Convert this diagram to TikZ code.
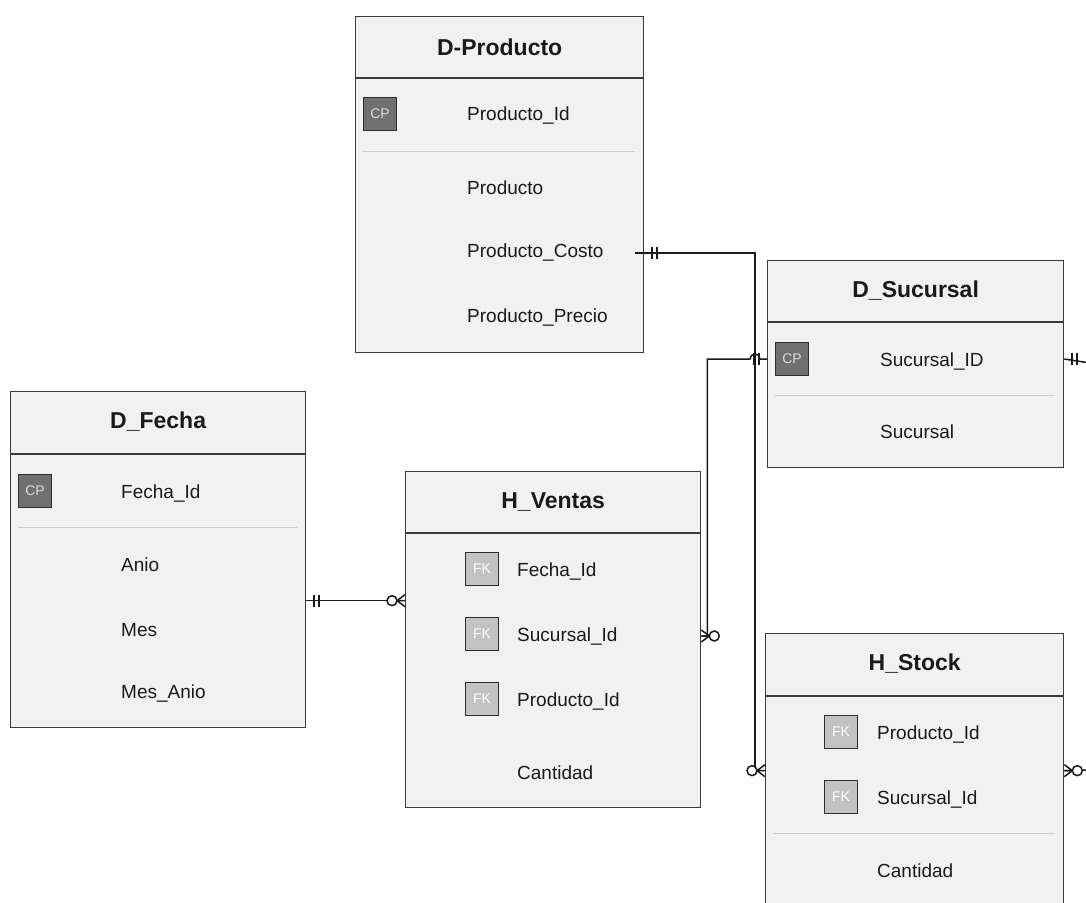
\documentclass[tikz,border=0pt]{standalone}
\usepackage{fontspec}
\setmainfont{Liberation Sans}
\usetikzlibrary{positioning,calc}
\definecolor{Cell}{HTML}{F1F1F1}
\definecolor{Frame}{HTML}{3A3A3A}
\definecolor{Ink}{HTML}{1A1A1A}
\definecolor{Rule}{HTML}{CACACA}
\definecolor{KeyDark}{HTML}{707070}
\definecolor{KeyLight}{HTML}{C2C2C2}
\tikzset{
  tbl/.style={draw=Frame,fill=Cell,line width=1.3pt,anchor=north west,inner sep=0pt},
  head/.style={font=\fontsize{23}{27}\selectfont\bfseries,text=Ink},
  fld/.style={anchor=west,inner sep=0pt,yshift=-2pt,font=\fontsize{19}{23}\selectfont,text=Ink},
  cp/.style={draw=Frame!80!black,fill=KeyDark,line width=1.2pt,minimum size=33pt,inner sep=0pt,font=\fontsize{14}{16}\selectfont,text=KeyLight!60!white},
  fk/.style={cp,fill=KeyLight,text=white},
  sep/.style={draw=Rule,line width=1pt},
  link/.style={draw=Ink,line width=1.5pt},
  onlyone/.pic={\draw[link,line width=2pt] (8,-6) -- (8,6) (13,-6) -- (13,6);},
  zeromany/.pic={\draw[link] (8,0) -- (0,-6) (8,0) -- (0,0) (8,0) -- (0,6);
    \draw[link,fill=white] (13,0) circle (5pt);}
}

\begin{document}
\begin{tikzpicture}[x=1pt,y=-1pt]
  \useasboundingbox[fill=white] (0,0) rectangle (1086,902);

  % D-Producto
  \node[tbl,minimum width=288pt,minimum height=336pt] (prod) at (355,16) {};
  \draw[tbl] (prod.north west) ++(0,62) -- ++(288,0);
  \node[head] (prodt) at ($(prod.north)+(0,31)$) {D-Producto};
  \node[cp] (pkey) at (380,114) {CP};
  \node[fld] (pid) at (467,114) {Producto\_Id};
  \draw[sep] (363,151) -- (635,151);
  \node[fld] (pname) at (467,186) {Producto};
  \node[fld] (pcost) at (467,251) {Producto\_Costo};
  \node[fld] (pprice) at (467,315) {Producto\_Precio};

  % D_Sucursal
  \node[tbl,minimum width=296pt,minimum height=207pt] (suc) at (767,260) {};
  \draw[tbl] (suc.north west) ++(0,62) -- ++(296,0);
  \node[head] (suct) at ($(suc.north)+(0,31)$) {D\_Sucursal};
  \node[cp] (skey) at (792,359) {CP};
  \node[fld] (sid) at (880,359) {Sucursal\_ID};
  \draw[sep] (775,395) -- (1055,395);
  \node[fld] (sname) at (880,430) {Sucursal};

  % D_Fecha
  \node[tbl,minimum width=295pt,minimum height=336pt] (fecha) at (10,391) {};
  \draw[tbl] (fecha.north west) ++(0,63) -- ++(295,0);
  \node[head] (fechat) at ($(fecha.north)+(0,31)$) {D\_Fecha};
  \node[cp] (fkey) at (35,491) {CP};
  \node[fld] (fid) at (121,491) {Fecha\_Id};
  \draw[sep] (18,527) -- (297,527);
  \node[fld] (anio) at (121,563) {Anio};
  \node[fld] (mes) at (121,628) {Mes};
  \node[fld] (mesanio) at (121,691) {Mes\_Anio};

  % H_Ventas
  \node[tbl,minimum width=295pt,minimum height=336pt] (ventas) at (405,471) {};
  \draw[tbl] (ventas.north west) ++(0,62) -- ++(295,0);
  \node[head] (ventast) at ($(ventas.north)+(0,31)$) {H\_Ventas};
  \node[fk] (vk1) at (482,569) {FK};
  \node[fld] (vfecha) at (517,569) {Fecha\_Id};
  \node[fk] (vk2) at (482,634) {FK};
  \node[fld] (vsuc) at (517,634) {Sucursal\_Id};
  \node[fk] (vk3) at (482,699) {FK};
  \node[fld] (vprod) at (517,699) {Producto\_Id};
  \node[fld] (vcant) at (517,771) {Cantidad};

  % H_Stock
  \node[tbl,minimum width=298pt,minimum height=274pt] (stock) at (765,633) {};
  \draw[tbl] (stock.north west) ++(0,63) -- ++(298,0);
  \node[head] (stockt) at ($(stock.north)+(0,31)$) {H\_Stock};
  \node[fk] (sk1) at (841,732) {FK};
  \node[fld] (sprod) at (877,732) {Producto\_Id};
  \node[fk] (sk2) at (841,797) {FK};
  \node[fld] (ssuc) at (877,797) {Sucursal\_Id};
  \draw[sep] (773,833) -- (1055,833);
  \node[fld] (scant) at (877,869) {Cantidad};

  % relaciones
  \coordinate (offA) at (1090,363);
  \coordinate (offB) at (1090,770);
  \draw[link] ($(prod.east |- pcost)+(-9,0)$) -| ($(stock.west)+(-10,0)$) -- (stock.west);
  \draw[link] (suc.west |- skey) -- ++(-7,0) arc[start angle=0,end angle=-180,radius=5]
    -| ($(ventas.east |- vsuc)+(6,0)$) -- (ventas.east |- vsuc);
  \draw[link] ($(fecha.east)+(0,41)$) -- (ventas.west |- {$(fecha.east)+(0,41)$});
  \draw[link] (suc.east |- skey) -- (offA);
  \draw[link] (stock.east) -- (offB);
  \pic at (prod.east |- pcost) {onlyone};
  \pic[rotate=180] at (stock.west) {zeromany};
  \pic[rotate=180] at (suc.west |- skey) {onlyone};
  \pic at (ventas.east |- vsuc) {zeromany};
  \pic at ($(fecha.east)+(0,41)$) {onlyone};
  \pic[rotate=180] at (ventas.west |- {$(fecha.east)+(0,41)$}) {zeromany};
  \pic at (suc.east |- skey) {onlyone};
  \pic at (stock.east) {zeromany};
\end{tikzpicture}
\end{document}
